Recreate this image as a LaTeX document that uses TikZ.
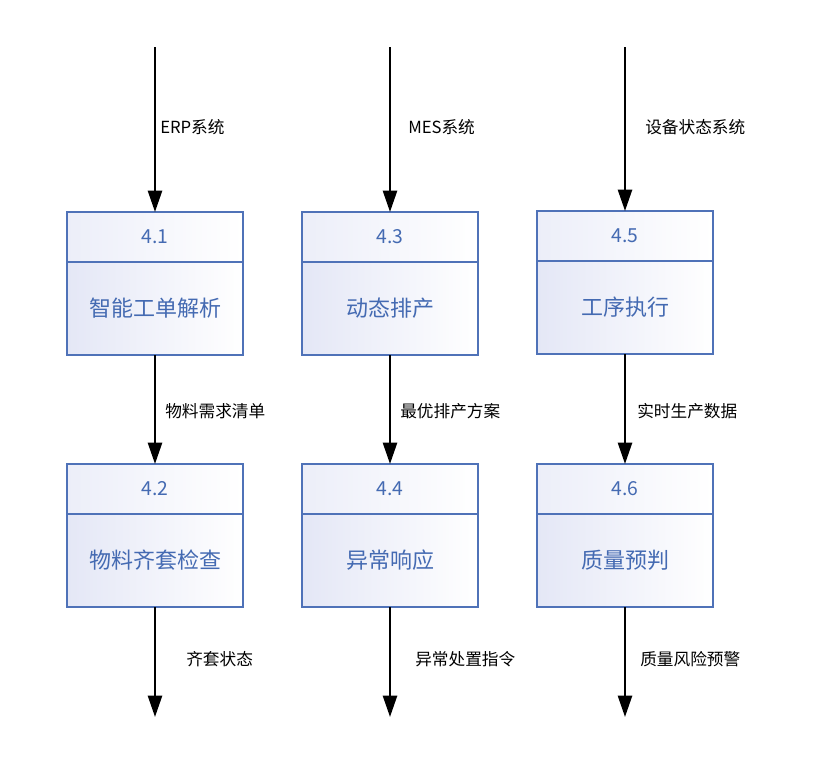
\documentclass[tikz,border=0pt]{standalone}
\usepackage{fontspec}
\setmainfont{Noto Sans CJK SC}
\usetikzlibrary{arrows.meta,positioning}
\definecolor{boxcolor}{RGB}{79,114,184}
\definecolor{txtcolor}{RGB}{68,106,178}
\definecolor{shadecolor}{RGB}{228,231,246}

\begin{document}
\begin{tikzpicture}[
    x=0.75pt, y=-0.75pt,
    node distance=0pt,
    head/.style={rectangle, draw=boxcolor, line width=1.5pt, outer sep=0pt, left color=shadecolor!70, right color=white, minimum width=132pt, minimum height=37.5pt, inner sep=0pt, text=txtcolor, font=\fontsize{14.5}{17}\selectfont},
    body/.style={head, left color=shadecolor, minimum height=69.75pt, font=\fontsize{16.5}{19}\selectfont},
    flow/.style={line width=1.9pt, -{Triangle[width=10.5pt,length=16pt]}},
    lbl/.style={anchor=west, inner sep=0pt, font=\fontsize{12.5}{15}\selectfont}
]
\useasboundingbox (0,0) rectangle (831,783);

% Column 1
\coordinate (in1) at (155,47);
\node[head] (h41) at (155,237) {4.1};
\node[body, below=of h41] (b41) {智能工单解析};
\node[head] (h42) at (155,489) {4.2};
\node[body, below=of h42] (b42) {物料齐套检查};
\coordinate (out1) at (155,717);
\draw[flow] (in1) -- (h41.north);
\draw[flow] (b41.south) -- (h42.north);
\draw[flow] (b42.south) -- (out1);
\node[lbl] (l1a) at (160,127) {ERP系统};
\node[lbl] (l1b) at (165,411) {物料需求清单};
\node[lbl] (l1c) at (186,659) {齐套状态};

% Column 2
\coordinate (in2) at (390,47);
\node[head] (h43) at (390,237) {4.3};
\node[body, below=of h43] (b43) {动态排产};
\node[head] (h44) at (390,489) {4.4};
\node[body, below=of h44] (b44) {异常响应};
\coordinate (out2) at (390,717);
\draw[flow] (in2) -- (h43.north);
\draw[flow] (b43.south) -- (h44.north);
\draw[flow] (b44.south) -- (out2);
\node[lbl] (l2a) at (408,127) {MES系统};
\node[lbl] (l2b) at (400,411) {最优排产方案};
\node[lbl] (l2c) at (415,659) {异常处置指令};

% Column 3
\coordinate (in3) at (625,47);
\node[head] (h45) at (625,236) {4.5};
\node[body, below=of h45] (b45) {工序执行};
\node[head] (h46) at (625,489) {4.6};
\node[body, below=of h46] (b46) {质量预判};
\coordinate (out3) at (625,717);
\draw[flow] (in3) -- (h45.north);
\draw[flow] (b45.south) -- (h46.north);
\draw[flow] (b46.south) -- (out3);
\node[lbl] (l3a) at (645,127) {设备状态系统};
\node[lbl] (l3b) at (637,411) {实时生产数据};
\node[lbl] (l3c) at (640,659) {质量风险预警};

\end{tikzpicture}
\end{document}
